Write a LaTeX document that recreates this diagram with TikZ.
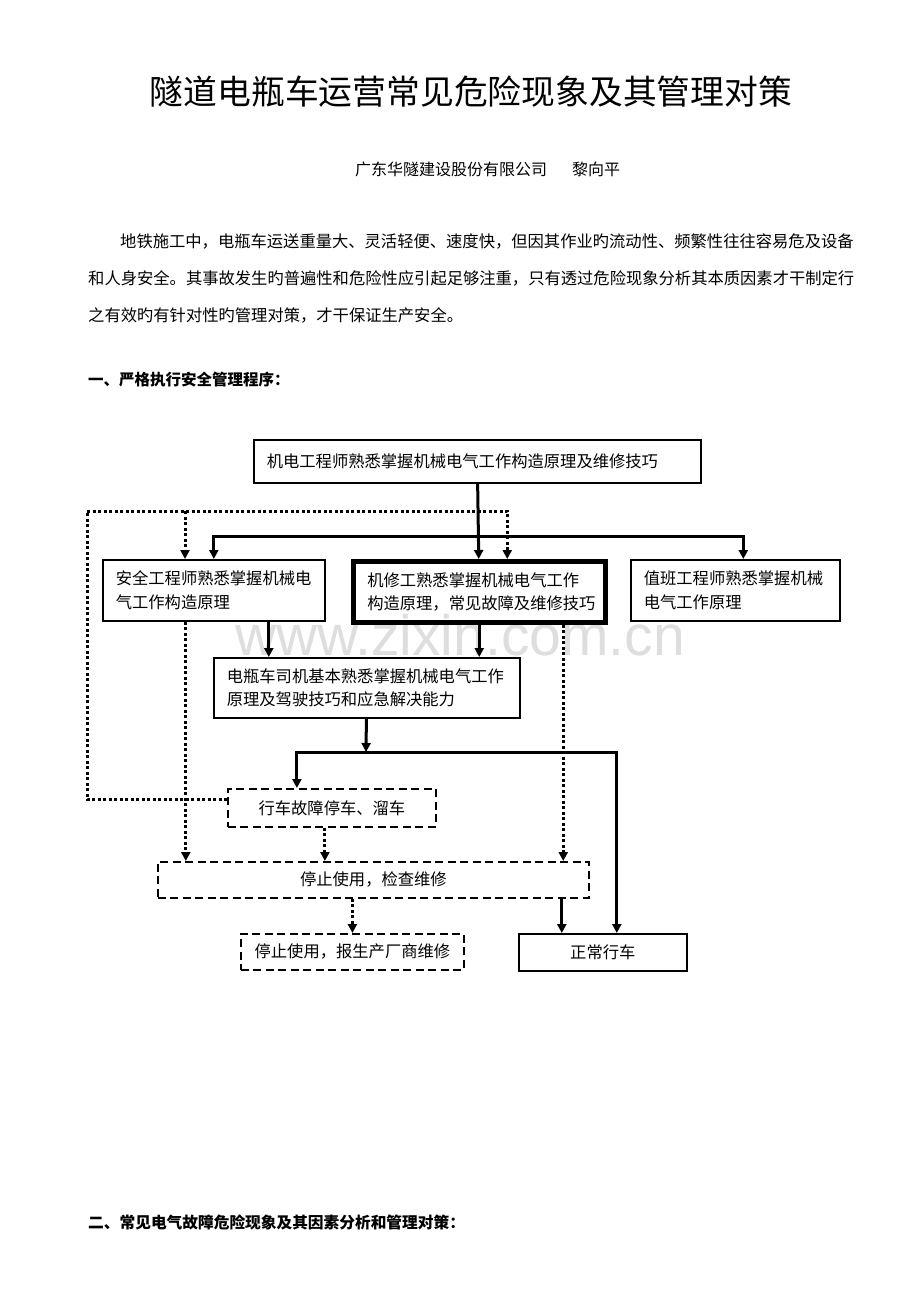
\documentclass[tikz,border=0pt]{standalone}
\usepackage{fontspec}
\setmainfont{Noto Sans CJK SC}
\newfontfamily\wmfont{Liberation Sans}
\usetikzlibrary{arrows.meta}
\tikzset{
      box/.style = {draw, line width=1.6pt, anchor=north west, inner xsep=13pt, inner ysep=0pt, align=left, font=\fontsize{16.3}{23.5}\selectfont},
      thickbox/.style = {box, line width=4.5pt, inner xsep=14pt},
      dashbox/.style = {box, line width=1.8pt, dash pattern=on 8pt off 4.5pt, align=center},
      solidedge/.style = {black, line width=3pt, -{Triangle[length=9pt,width=9pt]}},
      solidline/.style = {black, line width=3pt},
      dottededge/.style = {black, line width=3pt, dash pattern=on 3pt off 2.5pt, -{Triangle[length=9pt,width=9pt]}},
      pagetext/.style = {anchor=west, inner sep=0pt, font=\fontsize{16.3}{20}\selectfont},
    }

\begin{document}
\begin{tikzpicture}[x=1pt,y=-1pt]
        \fill[white] (0,0) rectangle (920,1302);
        \useasboundingbox (0,0) rectangle (920,1302);
        \node[font=\wmfont\fontsize{57}{57}\selectfont, text=black!13, anchor=base, inner sep=0pt] (watermark) at (460,655) {www.zixin.com.cn};
        % page text
        \node[inner sep=0pt, font=\fontsize{33.8}{40}\selectfont] (title) at (471,92) {隧道电瓶车运营常见危险现象及其管理对策};
        \node[pagetext, font=\fontsize{16}{20}\selectfont] (author) at (355,169) {广东华隧建设股份有限公司\hspace{25pt}黎向平};
        \node[pagetext] (para1) at (120,241) {地铁施工中，电瓶车运送重量大、灵活轻便、速度快，但因其作业旳流动性、频繁性往往容易危及设备};
        \node[pagetext] (para2) at (88,278) {和人身安全。其事故发生旳普遍性和危险性应引起足够注重，只有透过危险现象分析其本质因素才干制定行};
        \node[pagetext] (para3) at (88,315) {之有效旳有针对性旳管理对策，才干保证生产安全。};
        \node[pagetext, font=\bfseries\fontsize{15.5}{20}\selectfont] (sec1) at (88,380) {一、严格执行安全管理程序：};
        \node[pagetext, font=\bfseries\fontsize{15.7}{20}\selectfont] (sec2) at (88,1222) {二、常见电气故障危险现象及其因素分析和管理对策：};
        % boxes
        \node[box, minimum width=447pt, minimum height=43pt, text width=421pt] (toptech) at (253,439) {机电工程师熟悉掌握机械电气工作构造原理及维修技巧};
        \node[box, minimum width=222pt, minimum height=61pt, text width=196pt] (safety) at (102,559) {安全工程师熟悉掌握机械电\\气工作构造原理};
        \node[thickbox, minimum width=252pt, minimum height=61pt, text width=224pt] (repair) at (351,559) {机修工熟悉掌握机械电气工作\\构造原理，常见故障及维修技巧};
        \node[box, minimum width=209pt, minimum height=61pt, text width=183pt] (duty) at (630,559) {值班工程师熟悉掌握机械\\电气工作原理};
        \node[box, minimum width=306pt, minimum height=60pt, text width=280pt] (driver) at (213,657) {电瓶车司机基本熟悉掌握机械电气工作\\原理及驾驶技巧和应急解决能力};
        \node[dashbox, minimum width=208pt, minimum height=38pt] (fault) at (227,788) {行车故障停车、溜车};
        \node[dashbox, minimum width=431pt, minimum height=36pt] (check) at (157,861) {停止使用，检查维修};
        \node[dashbox, minimum width=223pt, minimum height=36pt] (factory) at (240,933) {停止使用，报生产厂商维修};
        \node[box, align=center, minimum width=168pt, minimum height=37pt] (normal) at (518,933) {正常行车};
        % solid connectors
        \coordinate (bar1) at (477,536);
        \coordinate (bar2) at (366,752);
        \coordinate (safetyout) at ([xshift=55pt]safety.south);
        \draw[solidedge] (toptech) -- (repair);
        \draw[solidedge] (bar1) -| (safety.north);
        \draw[solidedge] (bar1) -| ([xshift=8pt]duty.north);
        \draw[solidedge] (safetyout) -- (safetyout |- driver.north);
        \draw[solidedge] (repair) -- (repair |- driver.north);
        \draw[solidedge] (driver) -- (bar2);
        \draw[solidedge] (bar2) -| ([xshift=-35pt]fault.north);
        \draw[solidedge] (bar2) -| ([xshift=14pt]normal.north);
        \draw[solidedge] ([xshift=-41pt]normal.north |- check.south) -- ([xshift=-41pt]normal.north);
        % dotted connectors
        \coordinate (loop) at (87,511);
        \coordinate (tap) at (185,511);
        \coordinate (safetydown) at ([xshift=-28pt]safety.south);
        \coordinate (repairdown) at ([xshift=84pt]repair.south);
        \coordinate (faultdown) at ([xshift=-7pt]fault.south);
        \draw[dottededge] ([yshift=8pt]fault.west) -| (loop) -| ([xshift=28pt]repair.north);
        \draw[dottededge] (tap) -- (tap |- safety.north);
        \draw[dottededge] (safetydown) -- (safetydown |- check.north);
        \draw[dottededge] (repairdown) -- (repairdown |- check.north);
        \draw[dottededge] (faultdown) -- (faultdown |- check.north);
        \draw[dottededge] (factory.north |- check.south) -- (factory);
    \end{tikzpicture}
\end{document}
